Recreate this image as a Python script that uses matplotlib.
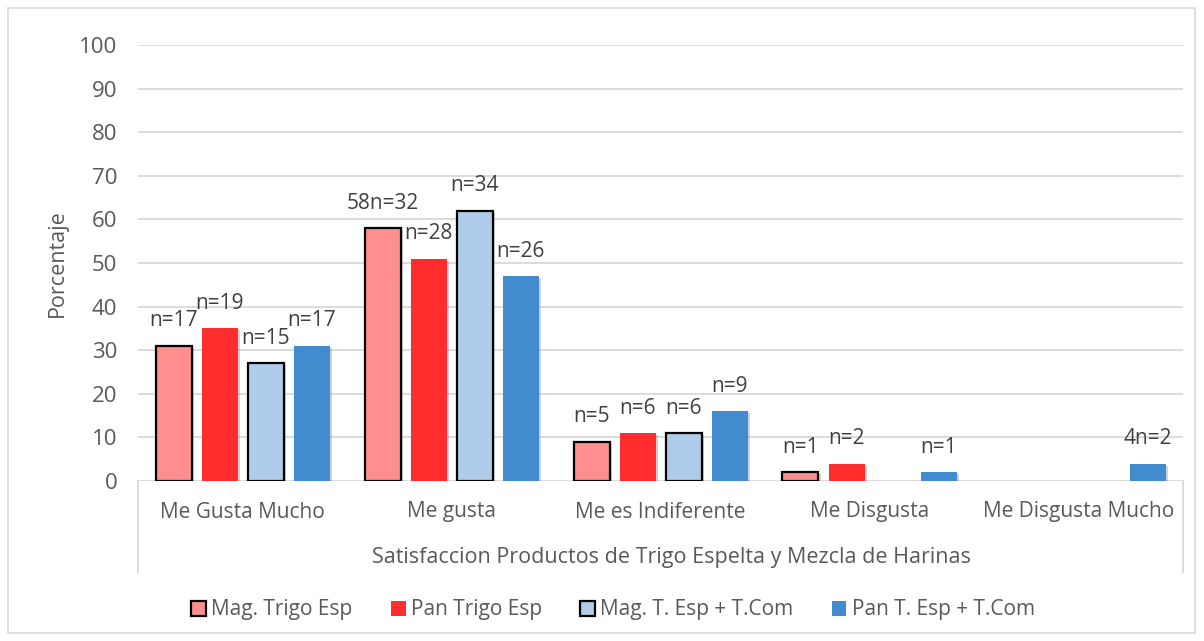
import matplotlib
matplotlib.use("Agg")
import matplotlib.pyplot as plt
import matplotlib.patheffects as pe
from matplotlib.patches import Rectangle
from matplotlib.lines import Line2D
import numpy as np

categories = ["Me Gusta Mucho", "Me gusta", "Me es Indiferente", "Me Disgusta", "Me Disgusta Mucho"]
series_names = ["Mag. Trigo Esp", "Pan Trigo Esp", "Mag. T. Esp + T.Com", "Pan T. Esp + T.Com"]
mag_trigo = [31, 58, 9, 2, 0]
pan_trigo = [35, 51, 11, 4, 0]
mag_tesp = [27, 62, 11, 0, 0]
pan_tesp = [31, 47, 16, 2, 4]
lab_mag_trigo = ["n=17", "58n=32", "n=5", "n=1", ""]
lab_pan_trigo = ["n=19", "n=28", "n=6", "n=2", ""]
lab_mag_tesp = ["n=15", "n=34", "n=6", "", ""]
lab_pan_tesp = ["n=17", "n=26", "n=9", "n=1", "4n=2"]
yticks = [0, 10, 20, 30, 40, 50, 60, 70, 80, 90, 100]
y_label = "Porcentaje"
x_title = "Satisfaccion Productos de Trigo Espelta y Mezcla de Harinas"

colors = ["#FF8F8F", "#FF2D2D", "#AFCDEA", "#428BCF"]
edges = ["black", "none", "black", "none"]
TXT = "#595959"
FONT = "Open Sans"

fig = plt.figure(figsize=(12.04, 6.41), dpi=100)
ax = fig.add_axes([138/1204, 1-481/641, (1183-138)/1204, (481-45)/641])

x = np.arange(len(categories))
step = 46/209
width = 36/209
data = [mag_trigo, pan_trigo, mag_tesp, pan_tesp]
labels = [lab_mag_trigo, lab_pan_trigo, lab_mag_tesp, lab_pan_tesp]
shadow = [pe.SimplePatchShadow(offset=(1.5, -1.5), shadow_rgbFace="#7F7F7F", alpha=0.35), pe.Normal()]
for k in range(4):
    xs = x + (k - 1.5) * step
    bars = ax.bar(xs, data[k], width=width, color=colors[k],
                  edgecolor=edges[k], linewidth=1.6 if edges[k] != "none" else 0,
                  zorder=3, label=series_names[k])
    for b, v in zip(bars, data[k]):
        if v == 0:
            b.set_visible(False)
        b.set_path_effects(shadow)
    for xi, v, t in zip(xs, data[k], labels[k]):
        if t:
            ax.annotate(t, (xi, v), xytext=(0, 18), textcoords="offset points",
                        ha="center", va="center", fontsize=15, color="#404040",
                        family=FONT, zorder=5)

ax.set_xlim(-0.5, len(categories) - 0.5)
ax.set_ylim(0, 100)
ax.set_yticks(yticks)
ax.set_yticklabels([str(t) for t in yticks], fontsize=16, color=TXT, family=FONT)
ax.tick_params(axis="y", length=0, pad=15)
ax.tick_params(axis="x", length=0)
ax.set_xticks([])
ax.grid(axis="y", color="#D9D9D9", linewidth=1.3, zorder=0)
for s in ax.spines.values():
    s.set_visible(False)
ax.set_ylabel(y_label, fontsize=15.5, color=TXT, family=FONT)
ax.yaxis.set_label_coords(-70/1045, 0.5)

# category labels
for xi, c in zip(x, categories):
    ax.text(xi, -31/4.36, c, ha="center", va="center", fontsize=15, color=TXT, family=FONT)
ax.text(2.05, -76/4.36, x_title, ha="center", va="center", fontsize=15.5, color=TXT, family=FONT)

# category axis box lines
for xpix in (138, 1183):
    fig.add_artist(Line2D([xpix/1204, xpix/1204], [1-481/641, 1-572/641], color="#D9D9D9", linewidth=1.3))

# outer border
fig.add_artist(Rectangle((8/1204, 8/641), (1195-8)/1204, (633-8)/641, fill=False,
                         edgecolor="#D9D9D9", linewidth=1.2, transform=fig.transFigure))

handles = [Rectangle((0, 0), 1, 1, facecolor=colors[k], edgecolor=edges[k],
                     linewidth=1.6 if edges[k] != "none" else 0) for k in range(4)]
leg = fig.legend(handles, series_names, loc="center", bbox_to_anchor=(613/1204, 1-610/641), ncol=4,
                 frameon=False, handlelength=0.7, handleheight=0.7, handletextpad=0.25,
                 columnspacing=1.85, prop={"family": FONT, "size": 15})
for t in leg.get_texts():
    t.set_color(TXT)

fig.savefig("out.png", dpi=100)
